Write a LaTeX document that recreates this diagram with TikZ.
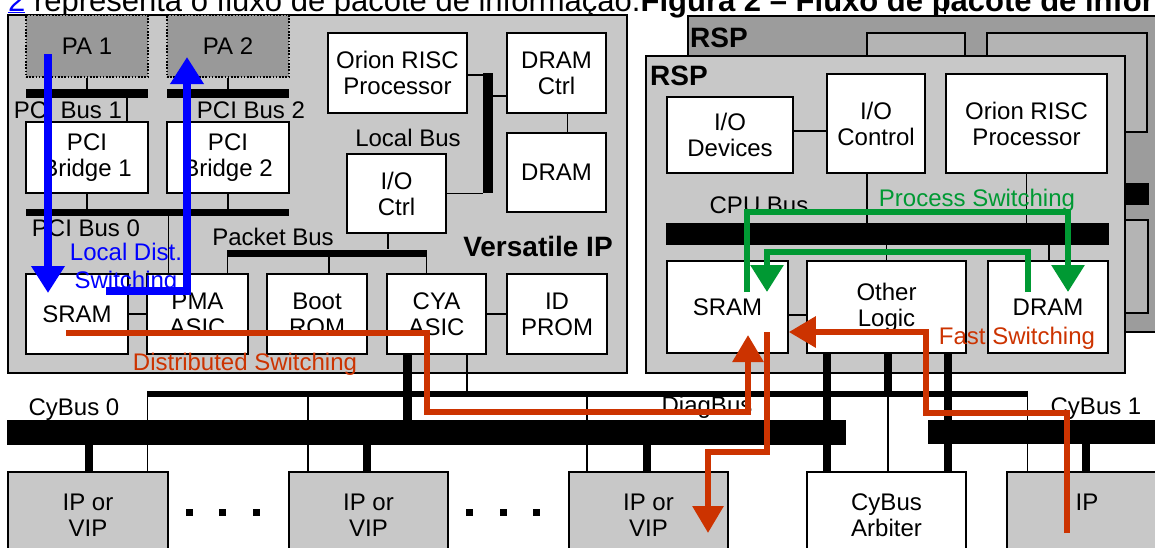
\documentclass[tikz,border=0pt]{standalone}
\usepackage{fontspec}
\setmainfont{Liberation Sans}
\usetikzlibrary{arrows.meta}
\definecolor{panelgray}{HTML}{C8C8C8}
\definecolor{backgray}{HTML}{9C9C9C}
\definecolor{boxgray}{HTML}{B4B4B4}
\definecolor{pagray}{HTML}{999999}
\definecolor{fastred}{HTML}{CC3300}
\definecolor{procgreen}{HTML}{009933}
\definecolor{localblue}{HTML}{0000FF}
\newcommand{\lab}{\fontsize{24}{26}\selectfont}
\newcommand{\boldlab}{\bfseries\fontsize{28}{30}\selectfont}
\tikzset{
  unit/.style={draw,fill=white,line width=1.6pt,inner sep=0pt,align=center,font=\lab},
  pabox/.style={unit,fill=pagray,dash pattern=on 1.6pt off 1.6pt},
  backbox/.style={draw,fill=boxgray,line width=1.6pt,inner sep=0pt},
  ipbox/.style={unit,fill=panelgray},
  bus/.style={fill=black,inner sep=0pt},
  tag/.style={font=\lab,inner sep=0pt,anchor=base},
  gapdot/.style={fill=black,inner sep=0pt,minimum size=7pt},
  wire/.style={line width=1.6pt},
  fatwire/.style={line width=8pt},
  blueflow/.style={localblue,line width=8pt,-{Triangle[width=32pt,length=27pt]}},
  greenflow/.style={procgreen,line width=6pt,-{Triangle[width=32pt,length=27pt]}},
  redflow/.style={fastred,line width=6pt,-{Triangle[width=30pt,length=27pt]}}
}
\begin{document}
\begin{tikzpicture}[x=1pt,y=-1pt]
\useasboundingbox (0,0) rectangle (1155,547);
\clip (0,0) rectangle (1155,547);
% caption line of the page, cut at the top
\node[anchor=base west,inner sep=0pt,font=\fontsize{31}{33}\selectfont] (caption) at (8,11)
  {\textcolor{blue}{\underline{2}} representa o fluxo de pacote de informação.\textbf{Figura 2 – Fluxo de pacote de informação}};
\draw[wire] (945,0) -- (945,14);

% Versatile IP panel
\draw[wire,fill=panelgray] (8,15) rectangle (627,373);
% RSP behind
\draw[wire,fill=backgray] (688,16) rectangle (1170,332);
\node[backbox,minimum width=98pt,minimum height=67pt] (rspA) at (916,66.5) {};
\node[backbox,minimum width=160pt,minimum height=99pt] (rspB) at (1067,82.5) {};
\node[bus,minimum width=49pt,minimum height=22pt] (rspbus) at (1124.5,194) {};
\node[backbox,minimum width=158pt,minimum height=93pt] (rspC) at (1069,266.5) {};
\node[font=\boldlab,inner sep=0pt,anchor=base west] (rspback) at (690,47) {RSP};
% RSP in front
\draw[wire,fill=panelgray] (646,56) rectangle (1125,373);
\node[font=\boldlab,inner sep=0pt,anchor=base west] (rspfront) at (650,85) {RSP};

% units of the Versatile IP
\node[pabox,minimum width=122pt,minimum height=62pt] (pa1) at (87,46) {PA 1};
\node[pabox,minimum width=122pt,minimum height=62pt] (pa2) at (228,46) {PA 2};
\node[bus,minimum width=122pt,minimum height=9pt] (pcibus1) at (87,93.5) {};
\node[bus,minimum width=122pt,minimum height=9pt] (pcibus2) at (228,93.5) {};
\node[unit,minimum width=122pt,minimum height=71pt] (bridge1) at (87,157.5) {PCI\\Bridge 1};
\node[unit,minimum width=122pt,minimum height=71pt] (bridge2) at (228,157.5) {PCI\\Bridge 2};
\node[bus,minimum width=263pt,minimum height=7pt] (pcibus0) at (157.5,212.5) {};
\node[unit,minimum width=102pt,minimum height=80pt] (sramv) at (77,314) {SRAM};
\node[unit,minimum width=101pt,minimum height=80pt] (pma) at (197.5,314) {PMA\\ASIC};
\node[unit,minimum width=100pt,minimum height=80pt] (bootrom) at (317,314) {Boot\\ROM};
\node[unit,minimum width=99pt,minimum height=80pt] (cya) at (436.5,314) {CYA\\ASIC};
\node[unit,minimum width=100pt,minimum height=80pt] (idprom) at (557,314) {ID\\PROM};
\node[bus,minimum width=200pt,minimum height=7pt] (pktbus) at (327,253) {};
\node[unit,minimum width=139pt,minimum height=80pt] (orionv) at (397.5,73) {Orion RISC\\Processor};
\node[unit,minimum width=99pt,minimum height=80pt] (dramctrl) at (556.5,73) {DRAM\\Ctrl};
\node[unit,minimum width=99pt,minimum height=79pt] (dramv) at (556.5,172.5) {DRAM};
\node[bus,minimum width=10pt,minimum height=120pt] (localbus) at (488,133) {};
\node[unit,minimum width=99pt,minimum height=79pt] (ioctrl) at (396.5,193.5) {I/O\\Ctrl};

% units of the RSP
\node[unit,minimum width=126pt,minimum height=76pt] (iodev) at (730,135) {I/O\\Devices};
\node[unit,minimum width=98pt,minimum height=99pt] (ioctl) at (876,123.5) {I/O\\Control};
\node[unit,minimum width=161pt,minimum height=99pt] (orionr) at (1026.5,123.5) {Orion RISC\\Processor};
\node[bus,minimum width=443pt,minimum height=22pt] (cpubus) at (887.5,234) {};
\node[unit,minimum width=121pt,minimum height=92pt] (sramr) at (727.5,307) {SRAM};
\node[unit,minimum width=159pt,minimum height=92pt] (other) at (886.5,307) {Other\\Logic};
\node[unit,minimum width=120pt,minimum height=92pt] (dramr) at (1048,307) {DRAM};

% buses and cards below
\node[bus,minimum width=839pt,minimum height=25pt] (cybus0) at (426.5,432.5) {};
\node[bus,minimum width=240pt,minimum height=24pt] (cybus1) at (1048,432) {};
\node[bus,minimum width=881pt,minimum height=6pt] (diagbus) at (587.5,394) {};
\node[ipbox,minimum width=160pt,minimum height=87pt] (ip1) at (88,515.5) {IP or\\VIP};
\node[ipbox,minimum width=159pt,minimum height=87pt] (ip2) at (368.5,515.5) {IP or\\VIP};
\node[ipbox,minimum width=159pt,minimum height=87pt] (ip3) at (648.5,515.5) {IP or\\VIP};
\node[unit,minimum width=159pt,minimum height=87pt] (arbiter) at (886.5,515.5) {CyBus\\Arbiter};
\node[ipbox,minimum width=160pt,minimum height=87pt] (ipr) at (1087,515.5) {IP\\\phantom{V}};
\foreach \d in {189,222,256,469,503,536}
  \node[gapdot] (dot\d) at (\d,512) {};

% connections, Versatile IP
\draw[wire] (pa1.south) -- (pcibus1.north);
\draw[wire] (pa2.south) -- (pcibus2.north);
\draw[wire] ([xshift=40pt]pcibus1.south) -- ([xshift=40pt]bridge1.north);
\draw[wire] ([xshift=-40pt]pcibus2.south) -- ([xshift=-40pt]bridge2.north);
\draw[wire] (bridge1.south) -- (bridge1.south |- pcibus0.north);
\draw[wire] (bridge2.south) -- (bridge2.south |- pcibus0.north);
\draw[wire] ([xshift=-29pt]pma.north) -- ([xshift=-29pt]pma.north |- pcibus0.south);
\draw[wire] (sramv.east) -- (pma.west);
\draw[wire] ([xshift=0.8pt]pktbus.south west) -- ([xshift=0.8pt]pktbus.south west |- pma.north);
\draw[wire] ([xshift=12pt]bootrom.north) -- ([xshift=12pt]bootrom.north |- pktbus.south);
\draw[wire] ([xshift=-8.5pt]ioctrl.south) -- ([xshift=-8.5pt]ioctrl.south |- pktbus.north);
\draw[wire] ([xshift=-0.8pt]pktbus.south east) -- ([xshift=-0.8pt]pktbus.south east |- cya.north);
\draw[wire] (cya.east) -- (idprom.west);
\draw[wire] ([yshift=-2pt]orionv.east) -- ([yshift=-2pt]orionv.east -| localbus.west);
\draw[wire] ([yshift=-23pt]dramctrl.west) -- ([yshift=-23pt]dramctrl.west -| localbus.east);
\draw[wire] (ioctrl.east) -- (ioctrl.east -| localbus.west);
\draw[wire] ([xshift=11pt]dramctrl.south) -- ([xshift=11pt]dramv.north);

% connections, RSP
\draw[wire] ([yshift=4pt]iodev.east) -- ([yshift=4pt]iodev.east -| ioctl.west);
\draw[wire] ([xshift=-9pt]ioctl.south) -- ([xshift=-9pt]ioctl.south |- cpubus.north);
\draw[wire] (orionr.south) -- (orionr.south |- cpubus.north);
\draw[wire] (other.north) -- (other.north |- cpubus.south);
\draw[wire] ([xshift=1pt]dramr.north) -- ([xshift=1pt]dramr.north |- cpubus.south);
\draw[wire] ([yshift=-8pt]sramr.east) -- ([yshift=-8pt]sramr.east -| other.west);

% connections to the buses below
\draw[fatwire] ([xshift=1pt]ip1.north) -- ([xshift=1pt]ip1.north |- cybus0.south);
\draw[wire] ([xshift=0.8pt]diagbus.north west) -- ([xshift=0.8pt]diagbus.north west |- ip1.north);
\draw[wire] ([xshift=-60.5pt]ip2.north) -- ([xshift=-60.5pt]ip2.north |- diagbus.south);
\draw[fatwire] ([xshift=-1.5pt]ip2.north) -- ([xshift=-1.5pt]ip2.north |- cybus0.south);
\draw[wire] ([xshift=-61.5pt]ip3.north) -- ([xshift=-61.5pt]ip3.north |- diagbus.south);
\draw[fatwire] ([xshift=-1.5pt]ip3.north) -- ([xshift=-1.5pt]ip3.north |- cybus0.south);
\draw[fatwire,line width=9pt] ([xshift=-29.5pt]cya.south) -- ([xshift=-29.5pt]cya.south |- cybus0.north);
\draw[wire] ([xshift=30.5pt]cya.south) -- ([xshift=30.5pt]cya.south |- diagbus.north);
\draw[fatwire] ([xshift=-59.5pt]other.south) -- ([xshift=-59.5pt]other.south |- arbiter.north);
\draw[fatwire] ([xshift=1.5pt]other.south) -- ([xshift=1.5pt]other.south |- diagbus.north);
\draw[wire] ([xshift=1.5pt]arbiter.north) -- ([xshift=1.5pt]arbiter.north |- diagbus.south);
\draw[fatwire] ([xshift=61.5pt]other.south) -- ([xshift=61.5pt]other.south |- arbiter.north);
\draw[wire] ([xshift=-0.8pt]diagbus.north east) -- ([xshift=-0.8pt]diagbus.north east |- ipr.north);
\draw[fatwire] ([xshift=-1.5pt]ipr.north) -- ([xshift=-1.5pt]ipr.north |- cybus1.south);

% bus names
\node[tag] (pcilab1) at (68,118) {PCI Bus 1};
\node[tag] (pcilab2) at (251,118) {PCI Bus 2};
\node[tag] (pcilab0) at (86,236.5) {PCI Bus 0};
\node[tag] (pktlab) at (273,245.5) {Packet Bus};
\node[tag] (locallab) at (408,146.5) {Local Bus};
\node[tag,font=\boldlab] (vipname) at (538,256) {Versatile IP};
\node[tag] (cpulab) at (759,213) {CPU Bus};
\node[tag] (cy0lab) at (74,415) {CyBus 0};
\node[tag] (diaglab) at (707,413) {DiagBus};
\node[tag] (cy1lab) at (1096,414) {CyBus 1};

% switching paths
\node[tag,text=localblue] (localdist1) at (126,260) {Local Dist.};
\node[tag,text=localblue] (localdist2) at (126,288) {Switching};
\node[tag,text=fastred] (distlab) at (245,370) {Distributed Switching};
\node[tag,text=procgreen] (proclab) at (977,206) {Process Switching};
\node[tag,text=fastred] (fastlab) at (1017,344) {Fast Switching};

\draw[blueflow] ([xshift=-39pt,yshift=-8pt]pa1.center) -- ([xshift=-29pt,yshift=21pt]sramv.center);
\draw[blueflow] ([xshift=29pt,yshift=23pt]sramv.center) -| ([xshift=-41pt,yshift=-11pt]pa2.center);

\draw[greenflow] ([xshift=19.5pt,yshift=15pt]sramr.center) |- ([yshift=11pt]cpubus.north) -| ([xshift=20pt,yshift=15pt]dramr.center);
\draw[greenflow] ([xshift=-20pt,yshift=15pt]dramr.center) |- ([yshift=-7pt]cpubus.south) -| ([xshift=39.5pt,yshift=15pt]sramr.center);

\coordinate (distdown) at (427,412);
\coordinate (ipdrop) at (708,452);
\coordinate (fastup) at (926,413);
\draw[redflow] ([xshift=-11pt,yshift=-19pt]sramv.center) -| (distdown) -| ([xshift=20.5pt,yshift=-28pt]sramr.center);
\draw[redflow] ([xshift=39.5pt,yshift=-25pt]sramr.center) |- (ipdrop) -- ([xshift=59.5pt,yshift=-17.5pt]ip3.center);
\draw[redflow] ([xshift=-20.5pt,yshift=-17.5pt]ipr.center) |- (fastup) |- ([yshift=-25pt]sramr.east);
\end{tikzpicture}
\end{document}
